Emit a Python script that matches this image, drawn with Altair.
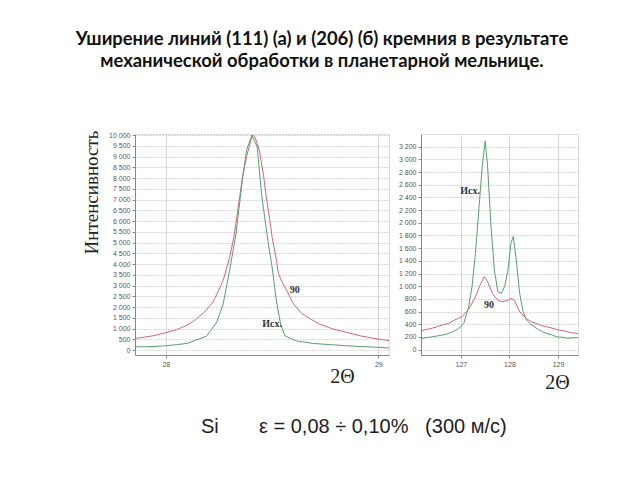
import altair as alt
import pandas as pd

# ---- data ----
a_x_90 = [27.855, 27.9, 27.95, 28.0, 28.05, 28.1, 28.14, 28.18, 28.22, 28.25, 28.27, 28.30, 28.32, 28.34,
          28.36, 28.38, 28.40, 28.41, 28.42, 28.44, 28.46, 28.47, 28.49, 28.50, 28.52, 28.53, 28.55, 28.57,
          28.60, 28.64, 28.68, 28.72, 28.78, 28.85, 28.92, 29.0, 29.05]
a_y_90 = [540, 600, 680, 810, 950, 1150, 1420, 1750, 2200, 2800, 3250, 4300, 5250, 6600,
          8000, 9000, 9750, 10000, 9900, 9300, 8100, 7300, 6000, 5250, 4200, 3550, 3100, 2750,
          2150, 1700, 1450, 1220, 1000, 820, 650, 510, 440]
a_x_src = [27.855, 27.9, 27.95, 28.0, 28.05, 28.1, 28.14, 28.19, 28.21, 28.24, 28.27, 28.30, 28.33,
           28.36, 28.38, 28.405, 28.43, 28.45, 28.48, 28.50, 28.52, 28.54, 28.56, 28.61, 28.69, 28.85,
           29.0, 29.05]
a_y_src = [155, 150, 170, 200, 250, 310, 450, 640, 900, 1300, 2150, 3700, 5400,
           7900, 9300, 10000, 9450, 7280, 5100, 3860, 2300, 1210, 670, 435, 310, 200,
           125, 95]

b_x_src = [126.17, 126.3, 126.39, 126.5, 126.62, 126.74, 126.85, 126.95, 127.06, 127.16, 127.23, 127.30,
           127.37, 127.44, 127.50, 127.55, 127.62, 127.69, 127.76, 127.83, 127.90, 127.97, 128.03,
           128.08, 128.14, 128.21, 128.28, 128.35, 128.42, 128.56, 128.66, 128.77, 128.88, 128.98,
           129.1, 129.2, 129.3, 129.41]
b_y_src = [174, 190, 200, 215, 230, 253, 290, 333, 412, 676, 993, 1520,
           2207, 2893, 3290, 2893, 1943, 1257, 913, 887, 993, 1257, 1679,
           1785, 1415, 887, 597, 470, 412, 333, 290, 253, 230, 200,
           195, 180, 185, 190]
b_x_90 = [126.17, 126.3, 126.39, 126.5, 126.62, 126.74, 126.88, 127.02, 127.16, 127.30, 127.41, 127.48,
          127.55, 127.65, 127.76, 127.86, 127.97, 128.03, 128.10, 128.21, 128.35, 128.45, 128.56,
          128.66, 128.77, 128.88, 128.98, 129.1, 129.2, 129.3, 129.41]
b_y_90 = [296, 320, 333, 360, 390, 412, 470, 517, 634, 834, 1045, 1151,
          1072, 887, 781, 755, 781, 808, 781, 597, 491, 440, 412,
          380, 359, 340, 317, 300, 280, 265, 254]

series_names = ["90", "Исх."]
colors = ["#d0667c", "#5a9e68"]

a_ticks_y = list(range(0, 10001, 500))
b_ticks_y = list(range(0, 3201, 200))
a_ticks_x = [28, 29]
b_ticks_x = [127, 128, 129]

title_lines = ["Уширение линий (111) (а) и (206) (б) кремния в результате",
               "механической обработки в планетарной мельнице."]
bottom_si = "Si"
bottom_eq = "ε = 0,08 ÷ 0,10%\u00a0\u00a0\u00a0(300 м/с)"

a_labels = pd.DataFrame({"x": [28.606, 28.50], "y": [2790, 1210], "t": ["90", "Исх."]})
b_labels = pd.DataFrame({"x": [127.19, 127.58], "y": [2503, 700], "t": ["Исх.", "90"]})

# ---- frames ----
df_a = pd.concat([
    pd.DataFrame({"x": a_x_90, "y": a_y_90, "s": "90"}),
    pd.DataFrame({"x": a_x_src, "y": a_y_src, "s": "Исх."}),
])
df_b = pd.concat([
    pd.DataFrame({"x": b_x_90, "y": b_y_90, "s": "90"}),
    pd.DataFrame({"x": b_x_src, "y": b_y_src, "s": "Исх."}),
])

lab_expr = "replace(format(datum.value, ',d'), ',', ' ')"
color = alt.Color("s:N", scale=alt.Scale(domain=series_names, range=colors), legend=None)

def yaxis(vals, title=None, **kw):
    return alt.Axis(values=vals, labelExpr=lab_expr, labelFontSize=7, labelColor="#555",
                    labelOverlap=False, grid=True, gridDash=[1, 2], gridColor="#b0b0b0",
                    tickSize=3, tickColor="#888", domainColor="#888", labelPadding=2,
                    title=title, **kw)

def xaxis(vals, **kw):
    return alt.Axis(values=vals, format="d", labelFontSize=7, labelColor="#555", grid=True,
                    labelOverlap=False, gridColor="#d8d8d8", tickSize=3, tickColor="#888",
                    domainColor="#888",
                    title="2Θ", titleFont="Liberation Serif", titleFontSize=20, titleFontWeight="normal",
                    titleColor="#222", titleBaseline="middle", titleAlign="center", **kw)

W_A, W_B, H = 254, 157, 221

ax_a_x = alt.X("x:Q", scale=alt.Scale(domain=[27.855, 29.05], nice=False, zero=False),
               axis=xaxis(a_ticks_x, titleX=207, titleY=21))
ax_a_y = alt.Y("y:Q", scale=alt.Scale(domain=[-230, 10050], nice=False, zero=False),
               axis=yaxis(a_ticks_y, title="Интенсивность", titleFont="Liberation Serif",
                          titleFontSize=19, titleFontWeight="normal", titleColor="#222",
                          titleX=-44, titleY=58, titleAngle=-90, titleAlign="center",
                          titleBaseline="middle"))
ax_b_x = alt.X("x:Q", scale=alt.Scale(domain=[126.18, 129.41], nice=False, zero=False),
               axis=xaxis(b_ticks_x, titleX=136, titleY=27))
ax_b_y = alt.Y("y:Q", scale=alt.Scale(domain=[-84, 3400], nice=False, zero=False),
               axis=yaxis(b_ticks_y))

a_lines = alt.Chart(df_a).mark_line(strokeWidth=1, clip=True).encode(
    x=ax_a_x, y=ax_a_y, color=color, detail="s:N")
a_text = alt.Chart(a_labels).mark_text(font="Liberation Serif", fontSize=10, color="#333",
                                       fontWeight="bold").encode(x=ax_a_x, y=ax_a_y, text="t:N")
one = pd.DataFrame({"k": [0]})
si_text = alt.Chart(one).mark_text(font="Liberation Sans", fontSize=20, color="#222", align="left",
                                   baseline="middle", text=bottom_si).encode(
    x=alt.value(66), y=alt.value(293))
eq_text = alt.Chart(one).mark_text(font="Liberation Sans", fontSize=20, color="#222", align="left",
                                   baseline="middle", text=bottom_eq).encode(
    x=alt.value(124), y=alt.value(293))
left = alt.layer(a_lines, a_text, si_text, eq_text).properties(width=W_A, height=H)

b_lines = alt.Chart(df_b).mark_line(strokeWidth=1, clip=True).encode(
    x=ax_b_x, y=ax_b_y, color=color, detail="s:N")
b_text = alt.Chart(b_labels).mark_text(font="Liberation Serif", fontSize=10, color="#333",
                                       fontWeight="bold").encode(x=ax_b_x, y=ax_b_y, text="t:N")
right = alt.layer(b_lines, b_text).properties(width=W_B, height=H)

chart = alt.hconcat(left, right, spacing=32, bounds="flush").properties(
    title=alt.TitleParams(title_lines, font="Lato", fontSize=18.4, fontWeight="bold", color="#111",
                          anchor="middle", dx=-8, offset=59, lineHeight=22),
    padding={"left": 67, "top": 22, "right": 5, "bottom": 5},
).configure_view(stroke="#999", strokeWidth=1).configure(background="white")

chart.save("out.html", embed_options={"renderer": "svg", "actions": False})
